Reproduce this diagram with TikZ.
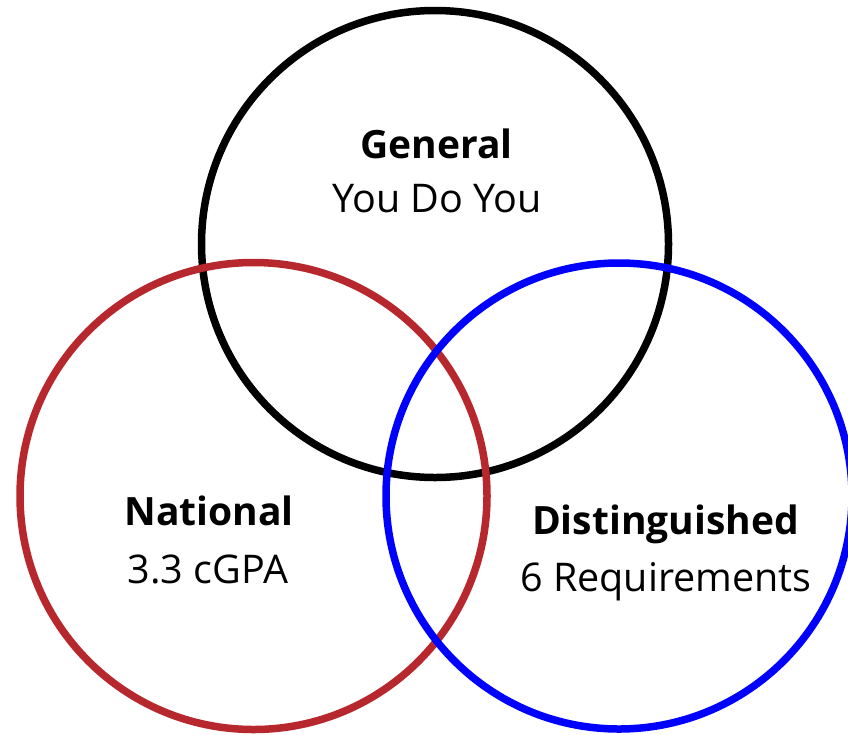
\documentclass[tikz,border=0pt]{standalone}
\usepackage{fontspec}
\setmainfont{Open Sans}
\definecolor{cred}{HTML}{B7282E}
\definecolor{cblue}{HTML}{0000FF}
\begin{document}
\begin{tikzpicture}[x=1pt,y=-1pt,
  ring/.style={line width=7.5pt,draw},
  ttl/.style={anchor=base,inner sep=0pt,font=\fontsize{39}{42}\selectfont\bfseries},
  sub/.style={anchor=base,inner sep=0pt,font=\fontsize{39.5}{42}\selectfont}]
\useasboundingbox (0,0) rectangle (848,734);
\draw[ring,black] (435,244) circle (233.5);
\draw[ring,cred] (253.5,496) circle (233.5);
\draw[ring,cblue] (619,496) circle (233);
\node[ttl] (g1) at (436.5,158) {General};
\node[sub] (g2) at (437,212) {You Do You};
\node[ttl] (n1) at (209,525) {National};
\node[sub] (n2) at (208,583) {3.3 cGPA};
\node[ttl] (d1) at (665.5,534) {Distinguished};
\node[sub] (d2) at (666,591) {6 Requirements};
\end{tikzpicture}
\end{document}
